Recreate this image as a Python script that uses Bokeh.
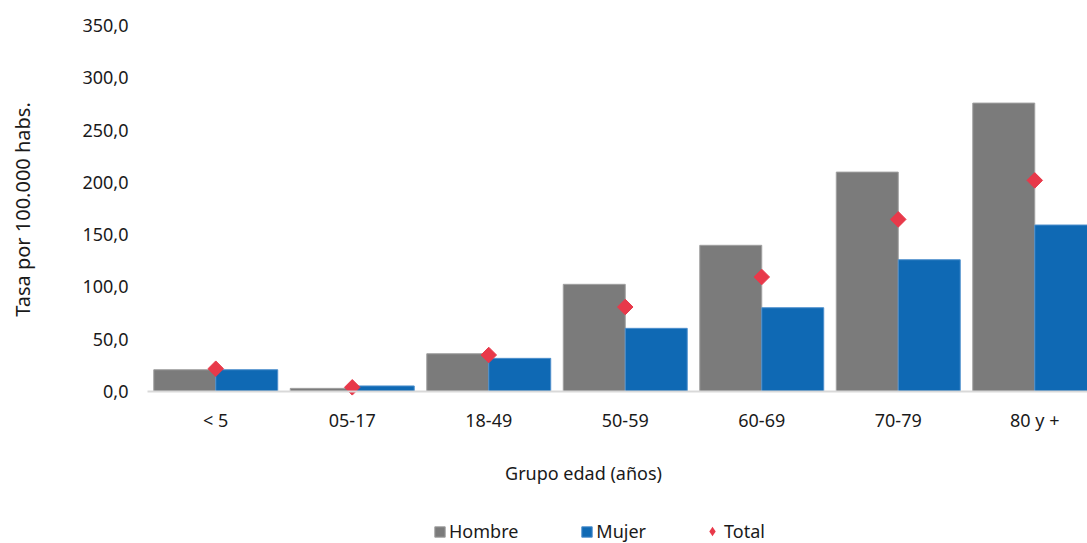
import numpy as np
from bokeh.plotting import figure
from bokeh.models import (Range1d, FixedTicker, CustomJSTickFormatter,
                          Legend, LegendItem, Label, ColumnDataSource)
from bokeh.embed import file_html
from bokeh.resources import INLINE

# ---- data ----
categories = ["< 5", "05-17", "18-49", "50-59", "60-69", "70-79", "80 y +"]
hombre = [20.8, 3.0, 36.1, 102.5, 139.8, 209.8, 275.8]
mujer = [20.8, 5.3, 31.7, 60.4, 80.1, 126.0, 159.2]
total = [21.8, 4.0, 34.9, 80.8, 109.5, 164.6, 201.9]
y_ticks = [0, 50, 100, 150, 200, 250, 300, 350]

FONT = "Noto Sans"
TXT = "#1a1a1a"
GRAY = "#7b7b7b"
BLUE = "#0f69b4"
RED = "#e8394a"

n = len(categories)
idx = np.arange(n)
centers = idx + 0.5
bw = 0.454

src = ColumnDataSource(dict(
    xh=centers - bw / 2, xm=centers + bw / 2, xc=centers,
    hombre=hombre, mujer=mujer, total=total))

# layout (pixels)
W, H = 1087, 543
x0_px, y0_px = 147, 391          # position of data origin on the canvas
cat_px = 136.5                   # pixels per category
ypx = 366 / 350                  # pixels per unit

p = figure(width=W, height=H, output_backend="svg", toolbar_location=None,
           x_range=Range1d(-x0_px / cat_px, (W - x0_px) / cat_px),
           y_range=Range1d(-(H - y0_px) / ypx, y0_px / ypx),
           min_border=0, min_border_left=0, min_border_right=0,
           min_border_top=0, min_border_bottom=0,
           background_fill_color="white", border_fill_color="white")
p.outline_line_color = None
p.grid.visible = False

rh = p.vbar(x="xh", top="hombre", width=bw, source=src, fill_color=GRAY,
            line_color="#a0a0a0", line_width=1)
rm = p.vbar(x="xm", top="mujer", width=bw, source=src, fill_color=BLUE,
            line_color="#4d8fcc", line_width=1)
rt = p.scatter(x="xc", y="total", source=src, marker="square", size=11, angle=np.pi / 4,
               fill_color=RED, line_color=RED)
# legend key for the total series (diamond shape, drawn only in the legend)
rt_key = p.scatter(x="xc", y="total", source=src, marker="diamond", size=0,
                   fill_color=RED, line_color=None)

# x axis at y = 0
xa = p.xaxis[0]
xa.fixed_location = 0
xa.bounds = (0, (W - x0_px) / cat_px)
xa.ticker = FixedTicker(ticks=list(centers))
xa.major_label_overrides = {float(c): lab for c, lab in zip(centers, categories)}
xa.axis_line_color = "#d9d9d9"
xa.axis_line_width = 2
xa.major_tick_line_color = None
xa.minor_tick_line_color = None
xa.major_label_standoff = 10
xa.major_label_text_font = FONT
xa.major_label_text_font_size = "18px"
xa.major_label_text_color = TXT

# y axis at x = 0
ya = p.yaxis[0]
ya.fixed_location = 0
ya.ticker = FixedTicker(ticks=y_ticks)
ya.formatter = CustomJSTickFormatter(code="return tick.toFixed(1).replace('.', ',');")
ya.axis_line_color = None
ya.major_tick_line_color = None
ya.minor_tick_line_color = None
ya.major_label_standoff = 13
ya.major_label_text_font = FONT
ya.major_label_text_font_size = "18px"
ya.major_label_text_color = TXT

# axis titles
p.add_layout(Label(x=22, y=H - 209, x_units="screen", y_units="screen",
                   text="Tasa por 100.000 habs.", angle=np.pi / 2,
                   text_font=FONT, text_font_size="20px", text_color=TXT,
                   text_align="center", text_baseline="middle"))
p.add_layout(Label(x=583, y=H - 472, x_units="screen", y_units="screen",
                   text="Grupo edad (años)", text_font=FONT, text_font_size="18px",
                   text_color=TXT, text_align="center", text_baseline="middle"))

common = dict(orientation="horizontal", padding=0, margin=0, border_line_color=None,
              background_fill_alpha=0, label_text_font=FONT, label_text_font_size="18px",
              label_text_color=TXT)
legend = Legend(items=[LegendItem(label="Hombre", renderers=[rh]),
                       LegendItem(label="Mujer", renderers=[rm])],
                location=(433, 0), glyph_width=13, glyph_height=13,
                label_standoff=3, spacing=62, **common)
legend_t = Legend(items=[LegendItem(label="Total", renderers=[rt_key])],
                  location=(700, 0), glyph_width=24, glyph_height=24,
                  label_standoff=0, **common)
p.add_layout(legend, "center")
p.add_layout(legend_t, "center")

open("out.html", "w").write(file_html(p, INLINE))
